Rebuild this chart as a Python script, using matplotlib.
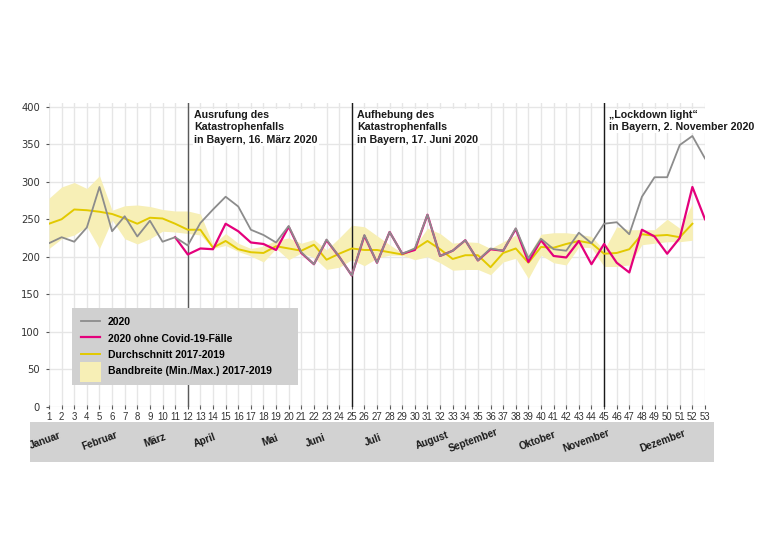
import matplotlib
matplotlib.use("Agg")
import matplotlib.pyplot as plt
from matplotlib.patches import Rectangle, Patch
from matplotlib.lines import Line2D
from matplotlib.legend_handler import HandlerPatch
import matplotlib.transforms as mtransforms

# ---------------- data ----------------
weeks = list(range(1, 54))
y2020 = [218, 226, 220, 239, 293, 234, 254, 227, 248, 220, 226, 215, 245, 263, 280, 267,
         236, 229, 219, 241, 206, 190, 223, 200, 175, 229, 192, 233, 204, 211, 256, 201,
         208, 222, 195, 211, 208, 238, 198, 224, 210, 208, 232, 218, 244, 246, 230, 280,
         306, 306, 349, 361, 331]
weeks_ohne = list(range(11, 54))
y2020_ohne = [226, 203, 211, 210, 244, 234, 219, 217, 209, 240, 205, 190, 222, 200, 175,
              228, 192, 233, 204, 209, 256, 201, 208, 222, 195, 210, 208, 237, 193, 222,
              201, 199, 221, 190, 217, 192, 179, 236, 227, 204, 225, 293, 250]
weeks_ref = list(range(1, 53))
mean_1719 = [244, 250, 263, 262, 260, 257, 251, 244, 252, 251, 244, 236, 236, 212, 221, 210,
             206, 205, 214, 211, 208, 216, 196, 204, 211, 209, 209, 206, 203, 210, 221, 210,
             197, 202, 202, 186, 205, 211, 192, 213, 212, 217, 221, 218, 204, 205, 210, 230,
             228, 229, 226, 244]
max_1719 = [278, 293, 299, 291, 308, 262, 268, 269, 267, 263, 261, 261, 257, 216, 231, 218,
            211, 214, 222, 225, 218, 223, 209, 225, 242, 240, 228, 216, 205, 214, 238, 231,
            218, 220, 219, 211, 220, 229, 202, 230, 232, 232, 230, 227, 209, 240, 236, 236,
            236, 250, 238, 271]
min_1719 = [211, 224, 229, 240, 211, 249, 224, 217, 224, 234, 233, 231, 229, 211, 215, 207,
            201, 193, 211, 196, 205, 199, 183, 186, 196, 188, 198, 202, 202, 196, 200, 192,
            182, 183, 183, 176, 193, 198, 171, 202, 192, 189, 213, 212, 187, 187, 189, 216,
            218, 220, 220, 222]

event_weeks = [12, 25, 45]
event_texts = ["Ausrufung des\nKatastrophenfalls\nin Bayern, 16. März 2020",
               "Aufhebung des\nKatastrophenfalls\nin Bayern, 17. Juni 2020",
               "\u201eLockdown light\u201c\nin Bayern, 2. November 2020"]
event_colors = ["#5a5a5a", "#1a1a1a", "#1a1a1a"]

months = ["Januar", "Februar", "März", "April", "Mai", "Juni", "Juli", "August",
          "September", "Oktober", "November", "Dezember"]
month_pos = [0.7, 5.05, 9.4, 13.35, 18.5, 22.1, 26.7, 31.4, 34.6, 39.7, 43.6, 49.65]

labels = ["2020", "2020 ohne Covid-19-Fälle", "Durchschnitt 2017-2019",
          "Bandbreite (Min./Max.) 2017-2019"]

# ---------------- style ----------------
FONT = ["Liberation Sans", "DejaVu Sans"]
C_GRAY = "#8c8c8c"
C_PINK = "#e4007c"
C_YEL = "#e2c900"
C_BAND = "#f7efb6"

fig = plt.figure(figsize=(7.6, 5.41), dpi=100)
W, H = 760, 541
ax = fig.add_axes([49 / W, (H - 406.7) / H, 656 / W, 303.7 / H])
ax.set_xlim(1, 53)
ax.set_ylim(0, 405)

for s in ax.spines.values():
    s.set_visible(False)

ax.set_xticks(weeks)
ax.set_xticklabels([str(w) for w in weeks], family=FONT, fontsize=6.9, color="#333333")
ax.set_yticks(range(0, 401, 50))
ax.set_yticklabels([str(v) for v in range(0, 401, 50)], family=["DejaVu Sans"],
                   fontsize=7.2, color="#333333")
ax.tick_params(axis="x", direction="inout", length=3, width=0.8, color="#555555", pad=2)
ax.tick_params(axis="y", direction="out", length=2.5, width=0.8, color="#555555", pad=4)
ax.grid(True, color="#e6e6e6", lw=1.0, zorder=0)
ax.set_axisbelow(True)

# band and lines
ax.fill_between(weeks_ref, min_1719, max_1719, color=C_BAND, lw=0, zorder=1)
for wk, col in zip(event_weeks, event_colors):
    ax.axvline(wk, color=col, lw=1.0, zorder=1.5)
ax.plot(weeks_ref, mean_1719, color=C_YEL, lw=1.4, zorder=2)
ax.plot(weeks_ohne, y2020_ohne, color=C_PINK, lw=1.6, zorder=3)
ax.plot(weeks, y2020, color=C_GRAY, lw=1.3, zorder=4)

# annotations
text_x = [12.5, 25.45, 45.4]
for tx, t in zip(text_x, event_texts):
    ax.text(tx, 395.5, t, ha="left", va="top", family=FONT, fontweight="bold",
            fontsize=7.7, color="#1a1a1a", linespacing=1.28, zorder=5,
            bbox=dict(facecolor="white", edgecolor="none", pad=0.8))

# legend
handles = [Line2D([], [], color=C_GRAY, lw=1.3),
           Line2D([], [], color=C_PINK, lw=1.6),
           Line2D([], [], color=C_YEL, lw=1.4),
           Patch(facecolor=C_BAND, edgecolor="none")]


def make_band(legend, orig_handle, xdescent, ydescent, width, height, fontsize):
    side = 14.5
    return Rectangle((-xdescent + (width - side) / 2, -ydescent + (height - side) / 2 - 1),
                     side, side)


x0 = (72 - 49) / 656
y0 = (406.7 - 385) / 303.7
leg = ax.legend(handles, labels, loc="lower left", mode="expand",
                bbox_to_anchor=(x0, y0, (298 - 72) / 656, 0.2),
                borderaxespad=0, frameon=True, fancybox=False, facecolor="#d0d0d0",
                edgecolor="none", framealpha=1, handlelength=1.85, handleheight=1.1,
                handletextpad=0.75, labelspacing=0.55, borderpad=0.85,
                prop=dict(family=FONT, weight="bold", size=7.5),
                handler_map={Patch: HandlerPatch(patch_func=make_band)})
leg.set_zorder(6)

# month band
fig.patches.append(Rectangle((30 / W, (H - 462) / H), (714 - 30) / W, 40 / H,
                             transform=fig.transFigure, facecolor="#d2d2d2",
                             edgecolor="none", zorder=-1))
trans = mtransforms.blended_transform_factory(ax.transData, ax.transAxes)
my = (406.7 - 440.5) / 303.7
for m, p in zip(months, month_pos):
    ax.text(p, my, m, transform=trans, rotation=20, ha="center", va="center",
            family=FONT, fontweight="bold", fontsize=7.2, color="#1a1a1a",
            rotation_mode="anchor", clip_on=False)

fig.savefig("out.png", dpi=100)
